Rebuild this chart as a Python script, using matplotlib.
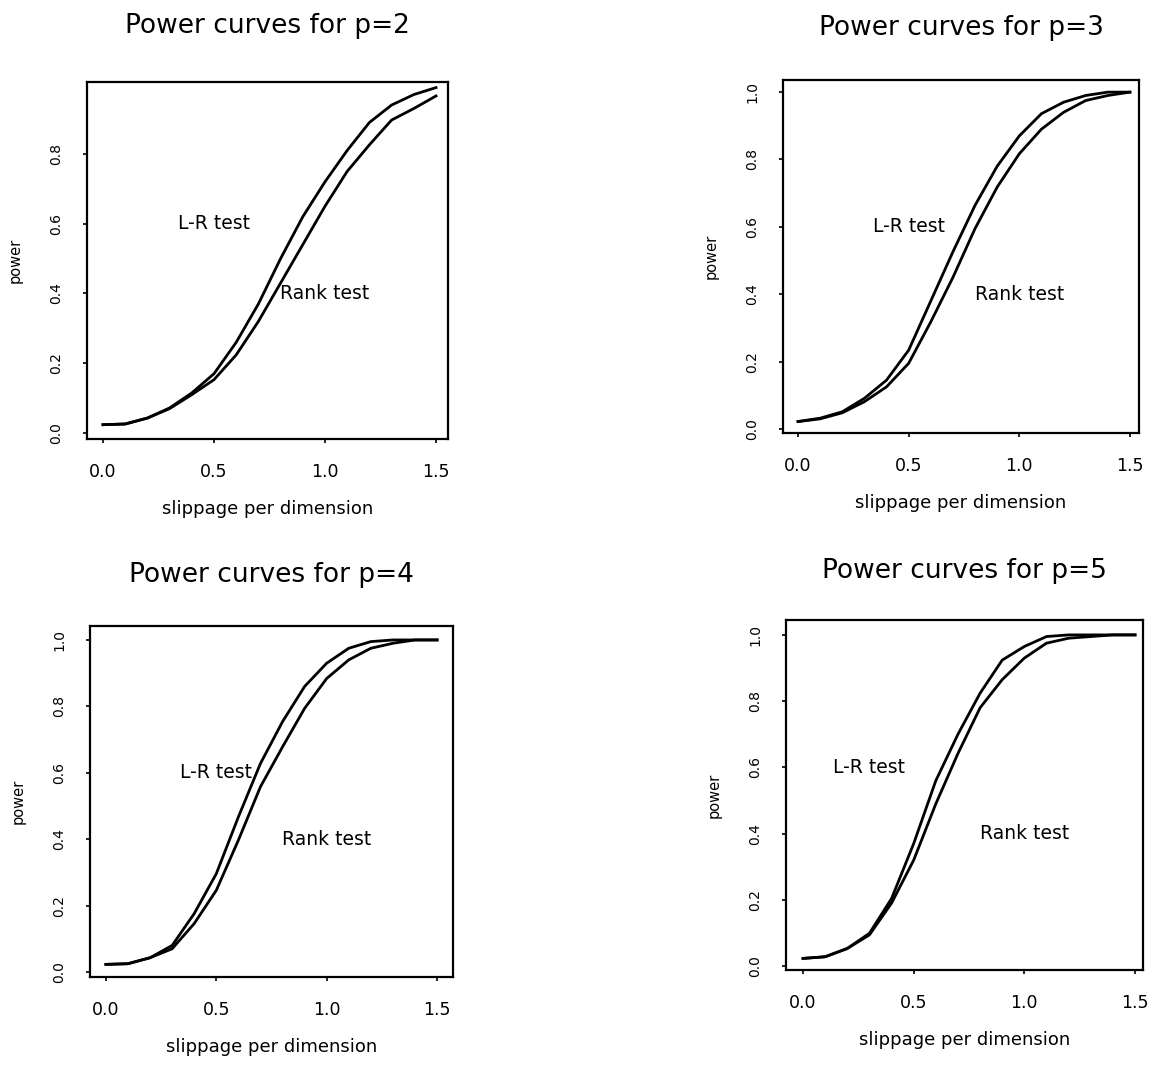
from __future__ import annotations

import matplotlib

matplotlib.use("Agg")
import matplotlib.pyplot as plt

FIG_W, FIG_H = 1151, 1069
DPI = 100

SLIPPAGE = [0.0, 0.1, 0.2, 0.3, 0.4, 0.5, 0.6, 0.7, 0.8, 0.9, 1.0, 1.1, 1.2, 1.3, 1.4, 1.5]

# power, one list per test and dimension p
LR_P2 = [0.024, 0.026, 0.043, 0.072, 0.115, 0.17, 0.26, 0.37, 0.50, 0.62, 0.72, 0.81, 0.89, 0.94, 0.97, 0.99]
RANK_P2 = [0.024, 0.026, 0.043, 0.070, 0.110, 0.153, 0.224, 0.32, 0.43, 0.54, 0.65, 0.75, 0.826, 0.897, 0.93, 0.966]

LR_P3 = [0.022, 0.032, 0.051, 0.091, 0.145, 0.234, 0.38, 0.526, 0.664, 0.78, 0.87, 0.936, 0.97, 0.99, 1.0, 1.0]
RANK_P3 = [0.022, 0.030, 0.048, 0.081, 0.125, 0.195, 0.318, 0.45, 0.595, 0.718, 0.817, 0.89, 0.94, 0.975, 0.99, 1.0]

LR_P4 = [0.023, 0.025, 0.043, 0.080, 0.176, 0.296, 0.467, 0.628, 0.754, 0.86, 0.93, 0.975, 0.995, 1.0, 1.0, 1.0]
RANK_P4 = [0.023, 0.025, 0.043, 0.070, 0.146, 0.246, 0.397, 0.558, 0.678, 0.794, 0.884, 0.94, 0.975, 0.99, 1.0, 1.0]

LR_P5 = [0.023, 0.028, 0.053, 0.099, 0.204, 0.37, 0.56, 0.70, 0.824, 0.924, 0.965, 0.995, 1.0, 1.0, 1.0, 1.0]
RANK_P5 = [0.023, 0.028, 0.053, 0.094, 0.19, 0.32, 0.49, 0.642, 0.78, 0.865, 0.93, 0.975, 0.99, 0.995, 1.0, 1.0]

P_VALUES = [2, 3, 4, 5]
LR_CURVES = [LR_P2, LR_P3, LR_P4, LR_P5]
RANK_CURVES = [RANK_P2, RANK_P3, RANK_P4, RANK_P5]

# label anchors (x, y) in data units
LR_LABEL_POS = [(0.5, 0.6), (0.5, 0.6), (0.5, 0.6), (0.3, 0.6)]
RANK_LABEL_POS = [(1.0, 0.4), (1.0, 0.4), (1.0, 0.4), (1.0, 0.4)]

Y_TICKS_SHORT = [0.0, 0.2, 0.4, 0.6, 0.8]
Y_TICKS_FULL = [0.0, 0.2, 0.4, 0.6, 0.8, 1.0]
X_TICKS = [0.0, 0.5, 1.0, 1.5]

# pixel boxes (left, right, top, bottom), limits and title baseline per panel
PANELS = [
    dict(box=(87, 448, 82, 439), xlim=(-0.072, 1.554), ylim=(-0.017, 1.006), title_y=33),
    dict(box=(783, 1139, 80, 433), xlim=(-0.068, 1.541), ylim=(-0.012, 1.036), title_y=35),
    dict(box=(90, 453, 626, 977), xlim=(-0.072, 1.572), ylim=(-0.015, 1.042), title_y=582),
    dict(box=(786, 1143, 620, 970), xlim=(-0.077, 1.536), ylim=(-0.012, 1.045), title_y=578),
]


def add_panel(fig, idx: int) -> None:
    spec = PANELS[idx]
    left, right, top, bottom = spec["box"]
    ax = fig.add_axes([left / FIG_W, 1 - bottom / FIG_H, (right - left) / FIG_W, (bottom - top) / FIG_H])

    ax.plot(SLIPPAGE, LR_CURVES[idx], color="black", lw=2.0, solid_joinstyle="round")
    ax.plot(SLIPPAGE, RANK_CURVES[idx], color="black", lw=2.0, solid_joinstyle="round")

    ax.text(*LR_LABEL_POS[idx], "L-R test", ha="center", va="center", fontsize=13.5)
    ax.text(*RANK_LABEL_POS[idx], "Rank test", ha="center", va="center", fontsize=13.5)

    ax.set_xlim(*spec["xlim"])
    ax.set_ylim(*spec["ylim"])
    ax.set_xticks(X_TICKS)
    ax.set_xticklabels([f"{v:.1f}" for v in X_TICKS], fontsize=12.5)
    yticks = Y_TICKS_SHORT if idx == 0 else Y_TICKS_FULL
    ax.set_yticks(yticks)
    ax.set_yticklabels([f"{v:.1f}" for v in yticks], fontsize=10, rotation=90, va="center")

    ax.tick_params(axis="x", length=3, width=1.2, pad=14)
    ax.tick_params(axis="y", length=3, width=1.2, pad=14)
    for spine in ax.spines.values():
        spine.set_linewidth(1.6)

    ax.set_xlabel("slippage per dimension", fontsize=13, labelpad=14)
    ax.set_ylabel("power", fontsize=10.5, labelpad=19)

    cx = (left + right) / 2 / FIG_W
    fig.text(cx, 1 - spec["title_y"] / FIG_H, f"Power curves for p={P_VALUES[idx]}",
             ha="center", va="baseline", fontsize=19)


def main() -> None:
    fig = plt.figure(figsize=(FIG_W / DPI, FIG_H / DPI), dpi=DPI)
    fig.patch.set_facecolor("white")
    for idx in range(len(PANELS)):
        add_panel(fig, idx)
    fig.savefig("out.png", dpi=DPI)
    plt.close(fig)


if __name__ == "__main__":
    main()
